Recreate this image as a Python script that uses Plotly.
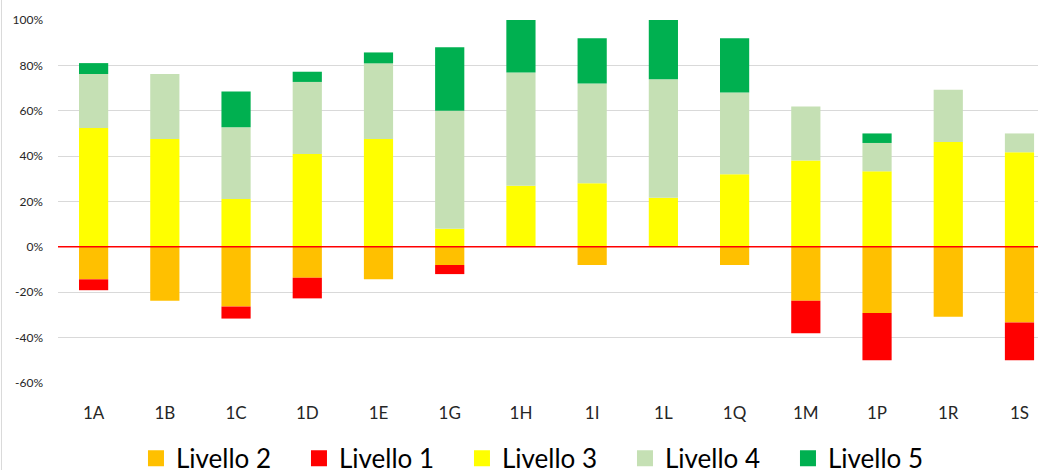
import plotly.graph_objects as go

categories = ["1A", "1B", "1C", "1D", "1E", "1G", "1H", "1I", "1L", "1Q", "1M", "1P", "1R", "1S"]

livello_2 = [-14.3, -23.8, -26.3, -13.6, -14.3, -8.0, 0, -8.0, 0, -8.0, -23.8, -29.2, -30.8, -33.3]
livello_1 = [-4.8, 0, -5.3, -9.1, 0, -4.0, 0, 0, 0, 0, -14.3, -20.8, 0, -16.7]
livello_3 = [52.4, 47.6, 21.1, 40.9, 47.6, 8.0, 26.9, 28.0, 21.7, 32.0, 38.1, 33.3, 46.2, 41.7]
livello_4 = [23.8, 28.6, 31.6, 31.8, 33.3, 52.0, 50.0, 44.0, 52.2, 36.0, 23.8, 12.5, 23.1, 8.3]
livello_5 = [4.8, 0, 15.8, 4.5, 4.8, 28.0, 23.1, 20.0, 26.1, 24.0, 0, 4.2, 0, 0]

series_names = ["Livello 2", "Livello 1", "Livello 3", "Livello 4", "Livello 5"]
series_values = [livello_2, livello_1, livello_3, livello_4, livello_5]
series_colors = ["#FFC000", "#FF0000", "#FFFF00", "#C5E0B4", "#00B050"]

y_ticks = [-60, -40, -20, 0, 20, 40, 60, 80, 100]
y_tick_labels = ["-60%", "-40%", "-20%", "0%", "20%", "40%", "60%", "80%", "100%"]

FONT = "Lato, Carlito, Calibri, sans-serif"

fig = go.Figure()
for name, vals, col in zip(series_names, series_values, series_colors):
    fig.add_trace(go.Bar(
        x=categories, y=vals, name=name,
        marker=dict(color=col, line=dict(width=0)),
        showlegend=False, legendgroup=name,
    ))
for name, col in zip(series_names, series_colors):
    fig.add_trace(go.Scatter(
        x=[None], y=[None], mode="markers", name=name, legendgroup=name,
        marker=dict(symbol="square", size=16, color=col),
    ))

fig.update_layout(
    width=1038, height=470,
    margin=dict(l=58, r=0, t=20, b=87, autoexpand=False),
    barmode="relative",
    bargap=0.59,
    plot_bgcolor="white",
    paper_bgcolor="white",
    font=dict(family=FONT, color="#262626"),
    legend=dict(
        orientation="h",
        xref="container", yref="container",
        x=0.131, xanchor="left",
        y=0.025, yanchor="middle",
        font=dict(size=26, color="#000000", family=FONT),
        entrywidth=118, entrywidthmode="pixels",
        itemsizing="trace",
        bgcolor="rgba(0,0,0,0)",
    ),
    xaxis=dict(
        type="category",
        range=[-0.5, 13.26],
        showgrid=False, zeroline=False, showline=False,
        ticks="",
        tickfont=dict(size=17, color="#262626"),
        ticklabelstandoff=18,
    ),
    yaxis=dict(
        range=[-60, 100],
        tickmode="array",
        tickvals=y_ticks,
        ticktext=y_tick_labels,
        showgrid=True, gridcolor="#D9D9D9", gridwidth=1,
        zeroline=False, showline=False,
        ticks="",
        tickfont=dict(size=12, color="#262626"),
        ticklabelstandoff=14,
    ),
    shapes=[
        dict(type="line", xref="paper", yref="y", x0=0, x1=1, y0=0, y1=0,
             line=dict(color="#FF0000", width=1.5), layer="above"),
        dict(type="line", xref="paper", yref="paper", x0=-0.0577, x1=-0.0577,
             y0=-0.24, y1=1.06, line=dict(color="#D9D9D9", width=1), layer="above"),
    ],
)

fig.write_html(
    "out.html",
    config={"displayModeBar": False},
    post_script="document.body.style.margin='0';document.body.style.overflow='hidden';",
)
